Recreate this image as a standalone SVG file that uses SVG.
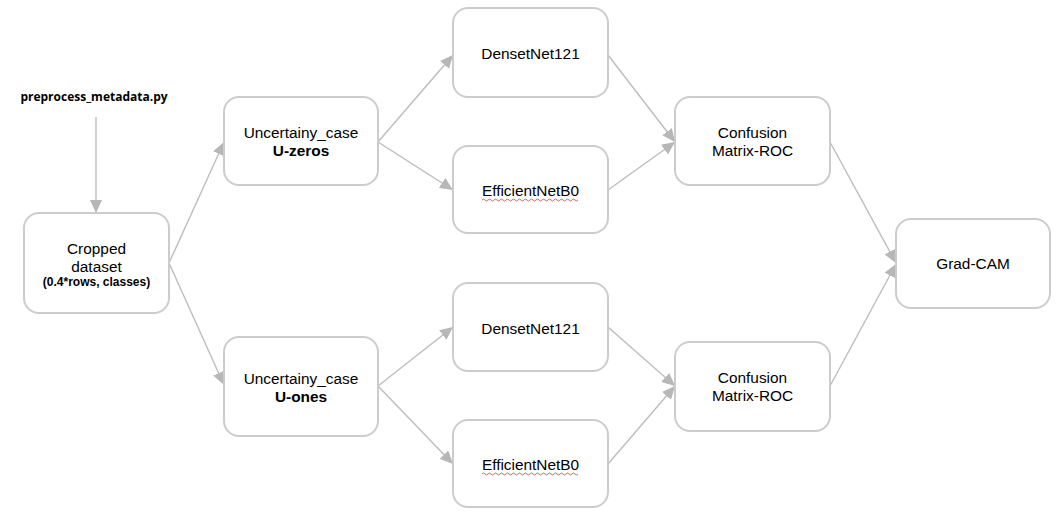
<svg xmlns="http://www.w3.org/2000/svg" width="1061" height="517" viewBox="0 0 1061 517">
<style>
.box{fill:#ffffff;stroke:#cccccc;stroke-width:2}
.t{font-family:"Liberation Sans",Arial,sans-serif;font-size:15.4px;fill:#000000;text-anchor:middle}
.b{font-weight:bold}
.s{font-family:"Liberation Sans",Arial,sans-serif;font-size:12px;font-weight:bold;text-anchor:middle}
.c{fill:none;stroke:#bdbdbd;stroke-width:1.4}
.sq{fill:none;stroke:#e53935;stroke-width:0.8}
</style>
<defs>
<marker id="ah" markerUnits="userSpaceOnUse" markerWidth="14" markerHeight="12" refX="13" refY="6" orient="auto">
<path d="M0,0 L13,6 L0,12 Z" fill="#b7b7b7"/>
</marker>
</defs>
<rect width="1061" height="517" fill="#ffffff"/>
<g id="connectors">
<line class="c" x1="96" y1="117" x2="96" y2="213" marker-end="url(#ah)"/>
<line class="c" x1="169" y1="263" x2="224" y2="142" marker-end="url(#ah)"/>
<line class="c" x1="169" y1="263" x2="224" y2="385" marker-end="url(#ah)"/>
<line class="c" x1="378" y1="142" x2="453" y2="55" marker-end="url(#ah)"/>
<line class="c" x1="378" y1="142" x2="453" y2="190" marker-end="url(#ah)"/>
<line class="c" x1="608" y1="55" x2="675" y2="142" marker-end="url(#ah)"/>
<line class="c" x1="608" y1="190" x2="675" y2="142" marker-end="url(#ah)"/>
<line class="c" x1="830" y1="142" x2="896" y2="263" marker-end="url(#ah)"/>
<line class="c" x1="378" y1="386" x2="453" y2="327" marker-end="url(#ah)"/>
<line class="c" x1="378" y1="386" x2="453" y2="464" marker-end="url(#ah)"/>
<line class="c" x1="608" y1="327" x2="675" y2="386" marker-end="url(#ah)"/>
<line class="c" x1="608" y1="464" x2="675" y2="386" marker-end="url(#ah)"/>
<line class="c" x1="830" y1="386" x2="896" y2="264" marker-end="url(#ah)"/>
</g>
<g id="preprocess">
<text x="94" y="101" style="font-family:'Open Sans','Noto Sans',sans-serif;font-size:12px;font-weight:bold;text-anchor:middle">preprocess_metadata.py</text>
</g>
<g id="cropped">
<rect class="box" x="24" y="213" width="145" height="100" rx="15"/>
<text class="t" x="96.5" y="254">Cropped</text>
<text class="t" x="96.5" y="272">dataset</text>
<text class="s" x="96.5" y="286">(0.4*rows, classes)</text>
</g>
<g id="uzeros">
<rect class="box" x="224" y="97" width="154" height="88" rx="15"/>
<text class="t" x="301" y="138">Uncertainy_case</text>
<text class="t b" x="301" y="156">U-zeros</text>
</g>
<g id="dense1">
<rect class="box" x="453" y="8" width="155" height="89" rx="15"/>
<text class="t" x="530.5" y="59">DensetNet121</text>
</g>
<g id="eff1">
<rect class="box" x="453" y="146" width="155" height="87" rx="15"/>
<text class="t" x="530.5" y="196">EfficientNetB0</text>
<path class="sq" d="M482,200 q1.5,-2 3,0 t3,0 t3,0 t3,0 t3,0 t3,0 t3,0 t3,0 t3,0 t3,0 t3,0 t3,0 t3,0 t3,0 t3,0 t3,0 t3,0 t3,0 t3,0 t3,0 t3,0 t3,0 t3,0 t3,0 t3,0 t3,0 t3,0 t3,0 t3,0 t3,0 t3,0 t3,0"/>
</g>
<g id="conf1">
<rect class="box" x="675" y="97" width="155" height="88" rx="15"/>
<text class="t" x="752.5" y="138">Confusion</text>
<text class="t" x="752.5" y="156">Matrix-ROC</text>
</g>
<g id="gradcam">
<rect class="box" x="896" y="219" width="154" height="89" rx="15"/>
<text class="t" x="973" y="269">Grad-CAM</text>
</g>
<g id="uones">
<rect class="box" x="224" y="337" width="154" height="99" rx="15"/>
<text class="t" x="301" y="384">Uncertainy_case</text>
<text class="t b" x="301" y="402">U-ones</text>
</g>
<g id="dense2">
<rect class="box" x="453" y="283" width="155" height="88" rx="15"/>
<text class="t" x="530.5" y="334">DensetNet121</text>
</g>
<g id="eff2">
<rect class="box" x="453" y="420" width="155" height="87" rx="15"/>
<text class="t" x="530.5" y="470">EfficientNetB0</text>
<path class="sq" d="M482,474 q1.5,-2 3,0 t3,0 t3,0 t3,0 t3,0 t3,0 t3,0 t3,0 t3,0 t3,0 t3,0 t3,0 t3,0 t3,0 t3,0 t3,0 t3,0 t3,0 t3,0 t3,0 t3,0 t3,0 t3,0 t3,0 t3,0 t3,0 t3,0 t3,0 t3,0 t3,0 t3,0 t3,0"/>
</g>
<g id="conf2">
<rect class="box" x="675" y="342" width="155" height="89" rx="15"/>
<text class="t" x="752.5" y="383">Confusion</text>
<text class="t" x="752.5" y="401">Matrix-ROC</text>
</g>
</svg>
